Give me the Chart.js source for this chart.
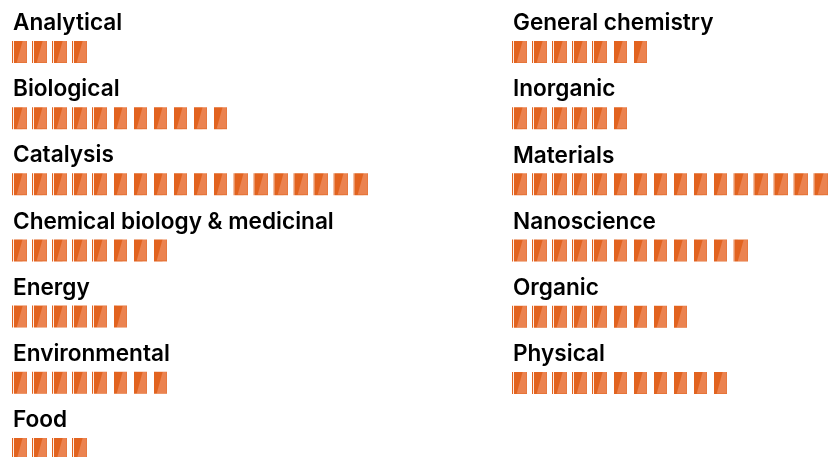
<!DOCTYPE html>
<html>
<head>
<meta charset="utf-8">
<script src="https://cdn.jsdelivr.net/npm/chart.js@4"></script>
<style>
html,body{margin:0;padding:0;background:#fff;overflow:hidden;width:833px;height:457px}
#stage{position:relative;width:833px;height:457px;overflow:hidden}
.col{position:absolute;top:0}
</style>
</head>
<body>
<div id="stage">
<div class="col" id="colL" style="left:0;width:372px;height:482px"><canvas id="left"></canvas></div>
<div class="col" id="colR" style="left:500px;width:332px;height:416px"><canvas id="right"></canvas></div>
</div>
<script>
const leftCategories = ["Analytical","Biological","Catalysis","Chemical biology & medicinal","Energy","Environmental","Food"];
const leftValues = [4,11,18,8,6,8,4];
const rightCategories = ["General chemistry","Inorganic","Materials","Nanoscience","Organic","Physical"];
const rightValues = [7,6,16,12,9,11];

const DARK = "#E2631F", LIGHT = "#EB8350", EDGE = "#E57436";
const UNIT = 20, ICON_H = 22, MAX_UNITS = 18;

function sprite() {
  const c = document.createElement("canvas");
  c.width = UNIT * MAX_UNITS; c.height = ICON_H;
  const g = c.getContext("2d");
  for (let i = 0; i < MAX_UNITS; i++) {
    const ox = UNIT * i;
    const hasStripe = i < 5 || i > 10;
    const shift = i > 10 ? 1 : 0;
    const x0 = ox + 2 + shift, x1 = ox + 15 + shift;
    if (hasStripe) {
      g.fillStyle = DARK;
      g.fillRect(ox + (i > 10 ? 1.6 : 0), 0, 1.1, ICON_H);
    }
    g.fillStyle = LIGHT;
    g.fillRect(x0, 0, x1 - x0, ICON_H);
    g.fillStyle = EDGE;
    g.fillRect(x1 - 0.6, 0, 0.6, ICON_H);
    g.fillRect(x0, ICON_H - 0.8, x1 - x0, 0.8);
    g.fillStyle = DARK;
    g.beginPath();
    g.moveTo(x0, 0); g.lineTo(x0 + 8.6, 0); g.lineTo(x0 + 2.6, ICON_H); g.lineTo(x0, ICON_H);
    g.closePath(); g.fill();
  }
  return c;
}
const spriteCanvas = sprite();

function iconFill(ctx) {
  const chart = ctx.chart;
  if (!chart.chartArea || ctx.dataIndex === undefined) return DARK;
  const y = Math.round(chart.scales.y.getPixelForValue(ctx.dataIndex) - ICON_H / 2);
  const p = chart.ctx.createPattern(spriteCanvas, "repeat");
  p.setTransform(new DOMMatrix().translate(chart.chartArea.left, y));
  return p;
}

function build(id, labels, values, maxUnits) {
  return new Chart(document.getElementById(id), {
    type: "bar",
    data: { labels, datasets: [{ data: values, backgroundColor: iconFill, borderWidth: 0, inflateAmount: 0, barThickness: ICON_H }] },
    options: {
      indexAxis: "y",
      responsive: true,
      maintainAspectRatio: false,
      animation: false,
      layout: { padding: { left: 12, top: 18.9, right: 0, bottom: 0 } },
      plugins: { legend: { display: false }, tooltip: { enabled: false } },
      scales: {
        x: { display: false, min: 0, max: maxUnits },
        y: {
          afterFit(s) { s.width = 0; s.paddingTop = 0; s.paddingBottom = 0; s.paddingLeft = 0; s.paddingRight = 0; },
          grid: { display: false, drawTicks: false },
          border: { display: false },
          ticks: {
            mirror: true, padding: 1, labelOffset: -28.6, autoSkip: false,
            color: "#000000",
            font: { family: "Inter", size: 22.6, weight: "600" }
          }
        }
      }
    }
  });
}
build("left", leftCategories, leftValues, 18);
build("right", rightCategories, rightValues, 16);
</script>
</body>
</html>
